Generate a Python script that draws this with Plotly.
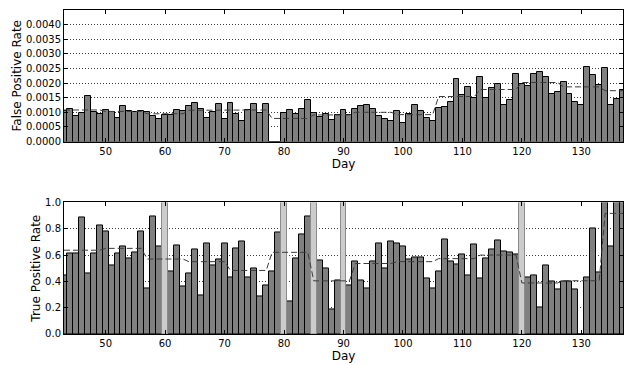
import plotly.graph_objects as go

# ---------------- data ----------------
days = list(range(43, 138))

fpr = [0.00105, 0.00112, 0.00086, 0.00097, 0.00157, 0.00102, 0.00094,
       0.00107, 0.00101, 0.00080, 0.00121, 0.00106, 0.00101, 0.00105,
       0.00100, 0.00087, 0.00078, 0.00091, 0.00091, 0.00109, 0.00106,
       0.00120, 0.00132, 0.00112, 0.00080, 0.00100, 0.00130, 0.00076,
       0.00133, 0.00093, 0.00070, 0.00109, 0.00127, 0.00098, 0.00129,
       0.0, 0.0, 0.00097, 0.00109, 0.00093, 0.00112, 0.00142,
       0.00098, 0.00084, 0.00093, 0.00073, 0.00090, 0.00107, 0.00091,
       0.00113, 0.00121, 0.00124, 0.00110, 0.00087, 0.00077, 0.00071,
       0.00106, 0.00064, 0.00093, 0.00126, 0.00103, 0.00081, 0.00070,
       0.00116, 0.00119, 0.00137, 0.00213, 0.00159, 0.00187, 0.00148,
       0.00221, 0.00148, 0.00183, 0.00197, 0.00124, 0.00143, 0.00232,
       0.00197, 0.00191, 0.00232, 0.00237, 0.00220, 0.00164, 0.00170,
       0.00203, 0.00164, 0.00137, 0.00126, 0.00256, 0.00227, 0.00194,
       0.00252, 0.00124, 0.00144, 0.00176]

tpr = [0.448, 0.614, 0.614, 0.883, 0.458, 0.614, 0.828,
       0.781, 0.522, 0.614, 0.662, 0.575, 0.619, 0.781,
       0.346, 0.893, 0.669, None, 0.476, 0.670, 0.358,
       0.458, 0.644, 0.292, 0.686, 0.521, 0.565, 0.686,
       0.431, 0.652, 0.705, 0.431, 0.502, 0.289, 0.371,
       0.478, 0.774, None, 0.244, 0.575, 0.756, 0.896,
       None, 0.557, 0.502, 0.184, 0.408, None, 0.371,
       0.550, 0.410, 0.346, 0.552, 0.687, 0.502, 0.706,
       0.687, 0.662, 0.565, 0.582, 0.580, 0.425, 0.348,
       0.477, 0.720, 0.552, 0.527, 0.603, 0.447, 0.682,
       0.420, 0.575, 0.644, 0.714, 0.624, 0.618, 0.603,
       None, 0.430, 0.445, 0.200, 0.520, 0.402, 0.335,
       0.402, 0.402, 0.335, 0.0, 0.430, 0.803, 0.470,
       1.0, 0.669, 1.0, 1.0]

# days with no TPR data (drawn as light full-height bars)
tpr_missing_days = [60, 80, 85, 90, 120]
tpr_missing_height = [1.0, 1.0, 1.0, 1.0, 1.0]

# weekly averages (dashed lines)
week_starts = [43, 50, 57, 64, 71, 78, 85, 92, 99, 106, 113, 120, 127, 134]
fpr_week = [0.00108, 0.00103, 0.00095, 0.00107, 0.00108, 0.00079, 0.00091,
            0.00100, 0.00092, 0.00154, 0.00178, 0.00202, 0.00187, 0.00174]
tpr_week = [0.637, 0.651, 0.570, 0.550, 0.483, 0.621, 0.404,
            0.536, 0.550, 0.573, 0.600, 0.388, 0.405, 0.917]

x_ticks = [50, 60, 70, 80, 90, 100, 110, 120, 130]
fpr_ticks = [0.0, 0.0005, 0.0010, 0.0015, 0.0020, 0.0025, 0.0030, 0.0035, 0.0040]
tpr_ticks = [0.0, 0.2, 0.4, 0.6, 0.8, 1.0]


def expand_weeks(levels):
    out = []
    for d in days:
        idx = max(i for i, s in enumerate(week_starts) if s <= d)
        out.append(levels[idx])
    return out


fpr_line = expand_weeks(fpr_week)
tpr_line = expand_weeks(tpr_week)

# ---------------- figure ----------------
DARK = "rgb(128,128,128)"
LIGHT = "rgb(204,204,204)"
DASH_COLOR = "rgb(60,60,60)"

fig = go.Figure()

fig.add_trace(go.Bar(x=days, y=fpr, width=1, xaxis="x", yaxis="y",
                     marker=dict(color=DARK, line=dict(color="black", width=1)),
                     showlegend=False))
fig.add_trace(go.Scatter(x=days, y=fpr_line, mode="lines", xaxis="x", yaxis="y",
                         line=dict(color=DASH_COLOR, width=1, dash="6px,3px"),
                         showlegend=False))

fig.add_trace(go.Bar(x=days, y=tpr, width=1, xaxis="x2", yaxis="y2",
                     marker=dict(color=DARK, line=dict(color="black", width=1)),
                     showlegend=False))
fig.add_trace(go.Bar(x=tpr_missing_days, y=tpr_missing_height, width=1,
                     xaxis="x2", yaxis="y2",
                     marker=dict(color=LIGHT, line=dict(color="rgb(140,140,140)", width=1)),
                     showlegend=False))
fig.add_trace(go.Scatter(x=days, y=tpr_line, mode="lines", xaxis="x2", yaxis="y2",
                         line=dict(color=DASH_COLOR, width=1, dash="6px,3px"),
                         showlegend=False))

axis_common = dict(showline=True, linecolor="black", linewidth=1, mirror="ticks",
                   ticks="inside", ticklen=4, tickcolor="black", tickwidth=1,
                   zeroline=False)
grid = dict(showgrid=True, gridcolor="rgb(60,60,60)", gridwidth=1, griddash="1px,2px")

fig.update_layout(
    width=634, height=365,
    margin=dict(l=64, r=11, t=4, b=31),
    paper_bgcolor="white", plot_bgcolor="white",
    font=dict(family="DejaVu Sans", size=10, color="black"),
    barmode="overlay", bargap=0,
    xaxis=dict(domain=[0, 1], anchor="y", range=[43, 137], tickvals=x_ticks,
               showgrid=False, title=dict(text="Day", standoff=1), **axis_common),
    yaxis=dict(domain=[0.594, 1], anchor="x", range=[0, 0.0045], tickvals=fpr_ticks,
               tickformat=".4f", title=dict(text="False Positive Rate", standoff=1),
               **grid, **axis_common),
    xaxis2=dict(domain=[0, 1], anchor="y2", range=[43, 137], tickvals=x_ticks,
                showgrid=False, title=dict(text="Day", standoff=1), **axis_common),
    yaxis2=dict(domain=[0, 0.406], anchor="x2", range=[0, 1], tickvals=tpr_ticks,
                tickformat=".1f", title=dict(text="True Positive Rate", standoff=1),
                **grid, **axis_common),
)

fig.write_html("out.html")
